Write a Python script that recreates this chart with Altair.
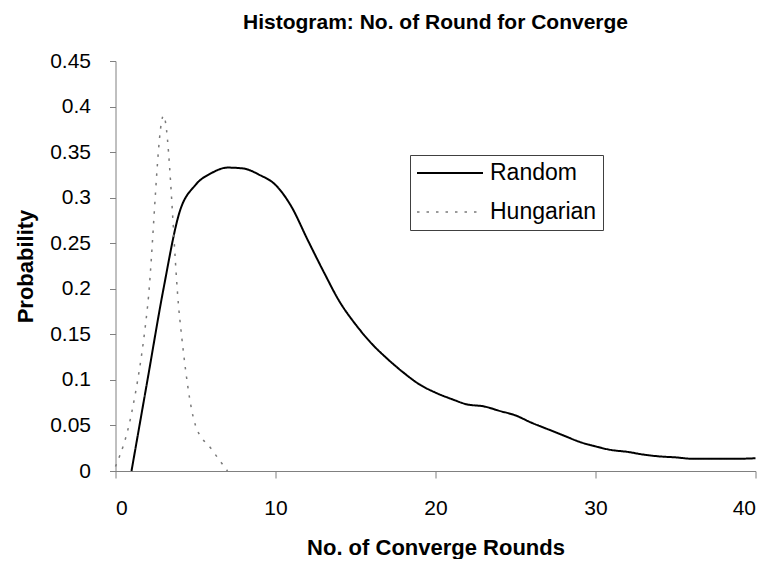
import altair as alt
import pandas as pd

# ---- data ----
series_names = ["Random", "Hungarian"]

rounds_random = [1, 2, 3, 4, 5, 6, 7, 8, 9, 10,
                 11, 12, 13, 14, 15, 16, 17, 18, 19, 20,
                 21, 22, 23, 24, 25, 26, 27, 28, 29, 30,
                 31, 32, 33, 34, 35, 36, 37, 38, 39, 40]
prob_random = [0.0, 0.100, 0.200, 0.284, 0.314, 0.327, 0.333, 0.332, 0.325, 0.314,
               0.290, 0.254, 0.219, 0.186, 0.161, 0.140, 0.123, 0.108, 0.095, 0.086,
               0.079, 0.073, 0.071, 0.066, 0.061, 0.053, 0.046, 0.039, 0.032, 0.027,
               0.023, 0.021, 0.018, 0.016, 0.015, 0.0135, 0.0135, 0.0135, 0.0135, 0.014]

rounds_hungarian = [0, 1, 2, 3, 4, 5, 6, 7]
prob_hungarian = [0.005, 0.063, 0.180, 0.390, 0.170, 0.050, 0.024, 0.0]

x_ticks = [0, 10, 20, 30, 40]
y_ticks = [0, 0.05, 0.1, 0.15, 0.2, 0.25, 0.3, 0.35, 0.4, 0.45]

df = pd.concat([
    pd.DataFrame({"rounds": rounds_random, "prob": prob_random, "series": "Random"}),
    pd.DataFrame({"rounds": rounds_hungarian, "prob": prob_hungarian, "series": "Hungarian"}),
])

FONT = "Liberation Sans"

legend = alt.Legend(
    title=None,
    orient="none",
    legendX=294.5,
    legendY=94,
    direction="vertical",
    symbolType="M-1,0H5",
    symbolSize=484,
    symbolStrokeWidth=1.8,
    labelOffset=50,
    labelFont=FONT,
    labelFontSize=23,
    labelColor="black",
    labelLimit=0,
    padding=6,
    rowPadding=15,
    strokeColor="#404040",
    fillColor="white",
)

chart = alt.Chart(df).mark_line(interpolate="monotone").encode(
    x=alt.X("rounds:Q",
            scale=alt.Scale(domain=[0, 40], nice=False),
            axis=alt.Axis(values=x_ticks, title="No. of Converge Rounds",
                          tickSize=7, labelPadding=19,
                          titleY=76, titleBaseline="middle")),
    y=alt.Y("prob:Q",
            scale=alt.Scale(domain=[0, 0.45], nice=False),
            axis=alt.Axis(values=y_ticks, format=".2~f", title="Probability",
                          tickSize=6, labelPadding=19,
                          titleX=-90.5, titleY=205, titleAngle=270,
                          titleAlign="center", titleBaseline="middle")),
    color=alt.Color("series:N",
                    scale=alt.Scale(domain=series_names, range=["#000000", "#7a7a7a"]),
                    legend=legend),
    strokeDash=alt.StrokeDash("series:N",
                              scale=alt.Scale(domain=series_names, range=[[1, 0], [2.5, 7]]),
                              legend=legend),
    strokeWidth=alt.StrokeWidth("series:N",
                                scale=alt.Scale(domain=series_names, range=[2, 1.5]),
                                legend=None),
).properties(
    width=640,
    height=410,
    autosize=alt.AutoSizeParams(type="none"),
    padding={"left": 107.5, "top": 53, "right": 8, "bottom": 88},
    title=alt.Title("Histogram: No. of Round for Converge", font=FONT, fontSize=21,
                    fontWeight="bold", color="black", anchor="middle",
                    offset=17),
).configure_view(
    stroke=None
).configure_axis(
    grid=False,
    domainColor="#808080",
    tickColor="#808080",
    labelColor="black",
    labelFont=FONT,
    labelFontSize=21,
    titleFont=FONT,
    titleFontSize=22,
    titleFontWeight="bold",
    titleColor="black",
)

chart.save("out.html", embed_options={"renderer": "svg", "actions": False})
